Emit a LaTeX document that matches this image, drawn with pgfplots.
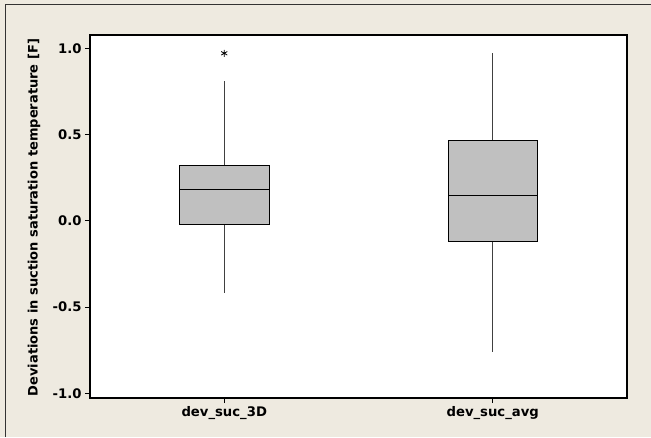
\documentclass[border=0pt]{standalone}
\usepackage{fontspec}
\setmainfont{DejaVu Sans}
\usepackage{pgfplots}
\pgfplotsset{compat=1.18}
\usepgfplotslibrary{statistics}
\definecolor{bg}{HTML}{EEEAE0}
\definecolor{boxgray}{HTML}{C0C0C0}
\definecolor{bordergray}{HTML}{333333}
\definecolor{whisk}{HTML}{404040}
\begin{document}
\begin{tikzpicture}
\fill[bg] (0,0) rectangle (651pt,437pt);
\useasboundingbox (0,0) rectangle (651pt,437pt);
\draw[bordergray, line width=1.3pt] (5.5pt,0) -- (5.5pt,432.5pt) -- (651pt,432.5pt);
\begin{axis}[
  at={(90pt,39pt)}, anchor=south west,
  width=537pt, height=363pt, scale only axis,
  xmin=0.5, xmax=2.5, ymin=-1.027, ymax=1.077,
  axis background/.style={fill=white},
  axis line style={black, line width=1.2pt},
  tick pos=left, tick align=outside,
  major tick length=5pt,
  tick style={black, line width=0.8pt},
  xtick={1,2}, xticklabels={dev\_suc\_3D, dev\_suc\_avg},
  ytick={-1,-0.5,0,0.5,1},
  /pgf/number format/assume math mode=true,
  /pgf/number format/.cd, fixed, fixed zerofill, precision=1, /pgfplots/.cd,
  tick label style={font=\bfseries\fontsize{13.2}{15}\selectfont},
  ylabel={Deviations in suction saturation temperature [F]},
  ylabel style={font=\bfseries\fontsize{13}{15}\selectfont, at={(axis description cs:-0.104,0.497)}, anchor=center},
  boxplot/draw direction=y,
  boxplot/every box/.style={draw=black, fill=boxgray, line width=1pt},
  boxplot/every median/.style={draw=black, line width=1pt},
  boxplot/every whisker/.style={draw=whisk, line width=1pt},
]
\addplot[boxplot prepared={draw position=1, lower whisker=-0.417, lower quartile=-0.020, median=0.183, upper quartile=0.319, upper whisker=0.81, box extend=0.337, whisker extend=0},
  mark=asterisk, mark size=3.5pt, mark options={black, line width=0.8pt}] coordinates {(1,0.971)};
\addplot[boxplot prepared={draw position=2, lower whisker=-0.762, lower quartile=-0.121, median=0.148, upper quartile=0.468, upper whisker=0.971, box extend=0.333, whisker extend=0}] coordinates {};
\end{axis}
\end{tikzpicture}
\end{document}
